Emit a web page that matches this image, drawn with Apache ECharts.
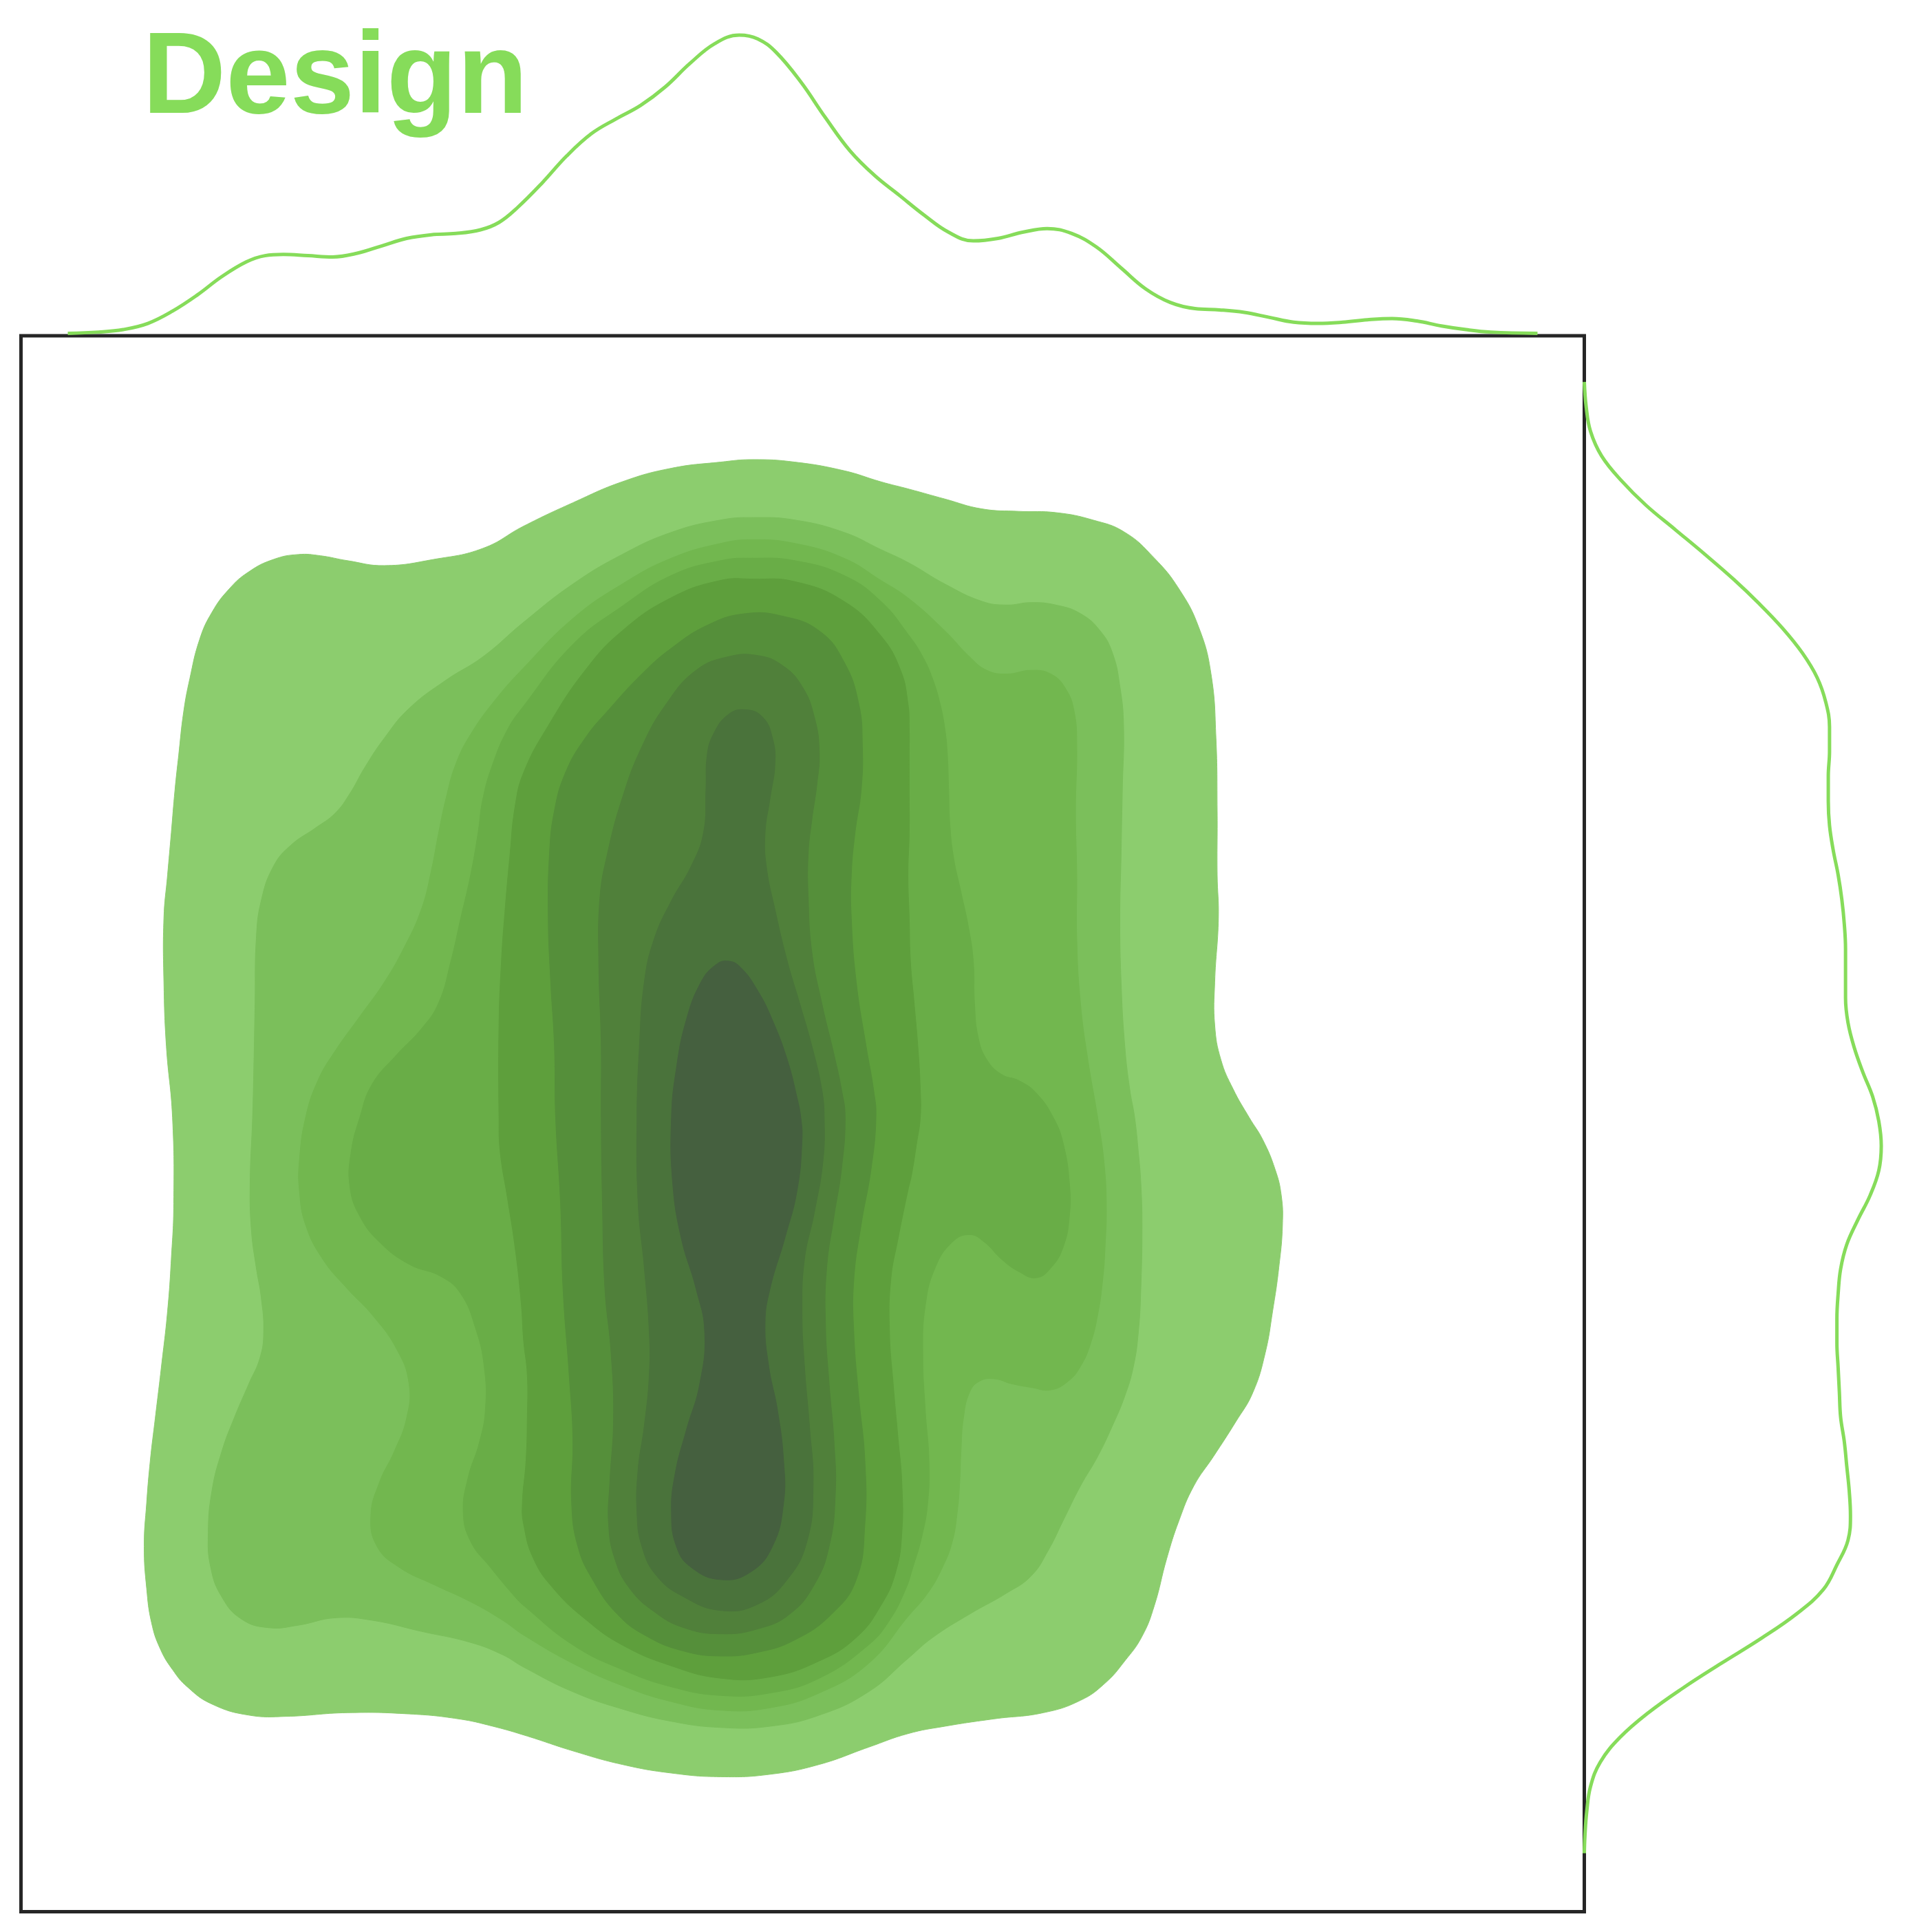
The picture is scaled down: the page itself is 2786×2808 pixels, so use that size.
<!DOCTYPE html>
<html>
<head>
<meta charset="utf-8">
<script src="https://cdn.jsdelivr.net/npm/echarts@6/dist/echarts.min.js"></script>
<style>html,body{margin:0;padding:0;background:#fff;}#chart{width:2786px;height:2808px;}</style>
</head>
<body>
<div id="chart"></div>
<script>
// ---- Data (units are arbitrary plot units) ----
const TITLE = 'Design';
const LINE_COLOR = '#86dc5a';
const LEVEL_COLORS = ['#8ccd6e', '#7bbf5b', '#72b74f', '#69ad47', '#5e9f3c', '#558f3a', '#50803a', '#4a733b', '#45603f'];

// Density contour levels (outermost -> innermost), each a closed outline of [x, y]
const LEVEL_1 = [[140,907],[135,849],[133,797],[133,745],[136,710],[139,676],[142,641],[145,613],[149,578],[154,551],[162,519],[172,497],[186,478],[202,464],[222,454],[242,450],[260,451],[282,455],[312,459],[352,454],[392,445],[425,427],
 [465,408],[505,391],[545,380],[585,375],[611,373],[645,375],[685,382],[715,391],[738,397],
 [767,405],[797,413],[827,415],[857,416],[887,422],[913,432],[937,453],[957,478],[973,509],[983,547],[987,599],[988,658],[988,710],[989,745],[986,797],[986,832],[991,860],[1001,884],[1014,907],
 [1025,925],[1035,949],[1040,970],[1041,994],[1038,1029],[1033,1064],[1027,1098],[1017,1130],[1003,1154],[985,1182],[969,1206],[957,1234],[947,1265],[937,1303],[927,1328],[913,1348],[897,1366],[877,1380],[847,1390],[807,1395],[767,1401],[737,1407],
 [705,1418],[665,1432],[625,1440],[585,1442],[545,1439],[505,1432],[465,1421],[428,1409],
 [400,1401],[372,1395],[332,1391],[282,1390],[232,1393],[202,1392],[172,1383],[152,1369],[140,1355],[130,1338],[123,1317],[119,1289],[117,1255],[119,1220],[122,1185],[126,1151],[131,1109],[136,1064],[139,1022],[141,977]];
const LEVEL_2 = [[205,907],[206,867],[207,814],[208,762],[212,731],[222,703],[236,686],[256,672],[272,660],[284,644],[296,623],[312,599],[332,575],[362,552],[392,533],[425,505],
 [465,474],[505,450],[545,432],[585,422],[611,420],[645,422],[685,432],[715,446],[738,457],
 [767,474],[797,488],[817,491],[837,489],[857,491],[877,498],[893,512],[903,530],[909,557],[912,589],[911,641],[910,693],[909,745],[910,797],[913,849],[917,884],[921,907],
 [924,935],[926,960],[927,994],[926,1046],[924,1081],[920,1109],[913,1133],[903,1157],[891,1182],[877,1206],[863,1234],[851,1258],[837,1279],[817,1293],[787,1310],[757,1329],[737,1346],
 [705,1373],[665,1392],[625,1401],[585,1402],[545,1397],[505,1387],[465,1373],[425,1353],
 [408,1343],[382,1333],[342,1324],[302,1315],[272,1313],[242,1319],[218,1321],[196,1314],[180,1296],[171,1272],[169,1244],[172,1210],[180,1178],[190,1151],[202,1123],[211,1102],[214,1081],[212,1053],[208,1029],[204,998],[203,960]];
const LEVEL_3 = [[248,907],[258,877],[272,853],[292,825],[312,797],[328,769],[342,738],[350,707],[356,676],[362,648],[370,620],[382,596],[402,568],[425,542],
 [465,502],[505,474],[545,453],[585,441],[611,438],[645,441],[685,453],[715,471],[738,486],
 [767,512],[787,533],[801,544],[817,547],[837,544],[853,547],[865,559],[872,578],[874,606],[873,658],[874,710],[874,762],[877,814],[883,860],[891,907],
 [896,942],[898,977],[897,1012],[895,1039],[891,1067],[885,1091],[877,1109],[867,1121],[853,1128],[837,1126],[821,1123],[807,1119],[795,1121],[787,1130],[782,1151],[780,1178],[779,1203],[777,1227],[773,1251],[765,1272],[753,1293],[737,1312],
 [705,1350],[665,1374],[625,1386],[585,1388],[545,1381],[505,1368],[465,1350],[425,1327],
 [408,1315],[382,1300],[352,1286],[324,1272],[306,1255],[301,1230],[308,1203],[320,1178],[330,1151],[332,1123],[322,1095],[302,1067],[282,1046],[262,1022],[248,994],[243,966],[243,942]];
const LEVEL_4 = [[292,907],[302,880],[322,856],[342,835],[356,814],[366,780],[374,745],[382,710],[388,676],[392,648],[400,620],[412,592],[425,573],
 [465,523],[505,492],[545,467],[585,455],[611,453],[645,455],[685,467],[715,488],[738,516],
 [749,533],[757,551],[763,571],[767,592],[769,613],[770,641],[771,669],[774,696],[780,724],[786,752],[790,780],[791,814],[794,842],[801,860],[813,872],[827,877],[841,887],[855,907],
 [863,928],[868,960],[868,987],[863,1012],[853,1029],[841,1037],[827,1032],[813,1022],[799,1008],[787,1002],[773,1008],[759,1029],[751,1060],[749,1098],[751,1144],[754,1185],[753,1220],[748,1248],[741,1272],[735,1290],[722,1315],
 [705,1335],[665,1362],[625,1374],[585,1376],[545,1369],[505,1355],[465,1335],[425,1303],
 [418,1296],[398,1272],[382,1251],[376,1227],[380,1199],[389,1171],[394,1144],[393,1109],[386,1078],[374,1050],[358,1036],[332,1026],[308,1008],[292,987],[284,963],[285,935]];
const LEVEL_5 = [[405,907],[405,832],[407,780],[410,738],[414,693],[418,655],[425,627],
 [445,589],[475,544],[505,512],[545,485],[585,471],[611,470],[645,472],[685,488],[715,516],[731,544],[737,571],[738,590],
 [738,613],[738,641],[738,676],[737,710],[738,745],[739,780],[742,814],[745,849],[747,884],[747,907],
 [744,928],[740,953],[737,966],
 [729,1005],[723,1039],[722,1081],[725,1123],[729,1168],[732,1203],[732,1244],[727,1276],[715,1303],[695,1329],[665,1348],[625,1361],[585,1362],[545,1352],[505,1335],[475,1314],[449,1289],[433,1265],[425,1237],
 [424,1220],[427,1185],[428,1151],[428,1116],[425,1088],[423,1057],[418,1012],[412,973],[406,935]];
const LEVEL_6 = [[451,907],[450,849],[447,797],[445,745],[446,693],[450,658],[459,627],[475,599],[495,575],[521,547],[545,526],[575,507],[605,498],[635,500],[665,512],[685,537],[697,571],[700,606],[699,641],[694,676],[691,710],[691,745],[695,797],[703,849],[709,884],[711,907],
 [707,949],[699,994],[693,1039],[693,1081],[697,1133],[702,1185],[702,1237],[695,1282],[675,1310],[645,1331],[615,1341],[585,1344],[555,1340],[525,1328],[501,1310],[481,1282],[469,1255],[464,1220],[465,1168],[462,1116],[457,1046],[455,977]];
const LEVEL_7 = [[488,907],[488,849],[486,780],[487,728],[493,693],[505,648],[521,606],[541,571],[565,544],[591,533],[615,532],[635,540],[651,557],[661,582],[665,610],[663,637],[659,665],[656,693],[656,728],[659,773],[667,814],[677,856],[683,884],[686,907],
 [683,949],[677,987],[671,1029],[670,1074],[673,1123],[677,1171],[678,1213],[673,1255],[661,1286],[641,1310],[615,1322],[585,1326],[555,1321],[531,1308],[511,1289],[499,1265],[494,1237],[495,1203],[498,1151],[496,1098],[491,1046],[489,977]];
const LEVEL_8 = [[517,907],[519,849],[523,797],[531,762],[545,731],[561,703],[571,676],[573,641],[574,613],[579,596],[591,580],[605,576],[619,582],[627,599],[629,620],[625,648],[621,676],[622,703],[629,738],[639,780],[649,814],[659,849],[667,884],[669,907],
 [668,942],[661,984],[653,1022],[651,1064],[653,1109],[657,1157],[660,1206],[655,1251],[639,1282],[615,1302],[585,1307],[555,1296],[533,1279],[521,1255],[517,1227],[518,1192],[523,1157],[527,1116],[527,1081],[523,1029],[518,977]];
const LEVEL_9 = [[545,907],[549,867],[557,828],[569,797],[581,783],[591,780],[601,785],[615,804],[627,828],[639,860],[647,891],[650,907],
 [651,925],[647,966],[637,1005],[625,1046],[621,1074],[624,1109],[631,1144],[636,1185],[636,1220],[627,1255],[609,1276],[585,1282],[561,1272],[549,1255],[545,1227],[548,1196],[557,1161],[568,1123],[572,1081],[565,1046],[553,1005],[546,960]];

// Marginal density along x (top)
const TOP_X = [55,80,100,120,140,160,180,200,215,230,250,270,290,310,330,350,370,390,405,420,440,460,480,500,520,540,560,580,600,615,630,650,670,690,710,730,750,770,790,810,830,850,870,890,910,930,950,970,990,1010,1030,1050,1070,1090,1110,1130,1150,1170,1190,1210,1248];
const TOP_DENSITY = [2,3,5,10,20,33,48,60,65,66,65,64,67,73,79,82,83,86,92,104,124,146,164,176,187,202,221,237,244,241,230,206,177,150,130,114,98,84,77,79,84,87,83,72,55,38,27,22,21,19,15,11,10,11,13,14,12,8,5,3,2];

// Marginal density along y (right)
const RIGHT_Y = [310,330,350,370,390,410,430,450,470,490,510,530,550,570,590,610,630,650,670,690,710,730,750,770,790,810,830,850,870,890,910,930,950,970,990,1010,1030,1050,1070,1090,1110,1130,1150,1170,1190,1210,1230,1250,1270,1290,1310,1330,1350,1370,1390,1410,1430,1450,1470,1490,1504];
const RIGHT_DENSITY = [0,1.5,5,14,30,50,74,98,121,142,161,177,189,196,199,199,198,198,199,202,206,209,211,212,212,212,214,219,226,234,239,241,239,232,222,213,208,206,205,205,206,207,208,211,213,215,216,214,205,194,172,143,111,80,52,29,13,5,2,0.5,0];

// Axis ranges
const MAIN_X_RANGE = [17, 1286];
const MAIN_Y_RANGE = [272.5, 1551.5];
const TOP_DENSITY_RANGE = [0, 272.5];
const RIGHT_DENSITY_RANGE = [0, 270];

const LEVELS = [LEVEL_1, LEVEL_2, LEVEL_3, LEVEL_4, LEVEL_5, LEVEL_6, LEVEL_7, LEVEL_8, LEVEL_9];

const chart = echarts.init(document.getElementById('chart'), null, {renderer: 'canvas'});

const contourSeries = LEVELS.map((poly, i) => ({
  type: 'custom',
  coordinateSystem: 'cartesian2d',
  xAxisIndex: 0, yAxisIndex: 0,
  data: poly,
  encode: {x: 0, y: 1},
  silent: true,
  z: 2 + i * 0.01,
  renderItem: (params, api) => {
    if (params.dataIndex !== 0) return null;
    const pts = poly.map(p => api.coord(p));
    return {
      type: 'polygon',
      shape: {points: pts, smooth: 0.45},
      style: {fill: LEVEL_COLORS[i], stroke: LEVEL_COLORS[i], lineWidth: 1}
    };
  }
}));

const option = {
  animation: false,
  backgroundColor: '#ffffff',
  title: {
    text: TITLE,
    left: 207, top: 34, padding: 0,
    textStyle: {fontSize: 168, fontWeight: 'bold', fontFamily: 'Liberation Sans, Arial, sans-serif', color: LINE_COLOR}
  },
  grid: [
    {left: 30.5, top: 488, right: 483.5, bottom: 29.5, show: true, borderColor: '#262626', borderWidth: 5, backgroundColor: 'transparent'},
    {left: 30.5, top: 0, right: 483.5, bottom: 2320, show: false},
    {left: 2302.5, top: 488, right: 0, bottom: 29.5, show: false}
  ],
  xAxis: [
    {gridIndex: 0, type: 'value', min: MAIN_X_RANGE[0], max: MAIN_X_RANGE[1], show: false},
    {gridIndex: 1, type: 'value', min: MAIN_X_RANGE[0], max: MAIN_X_RANGE[1], show: false},
    {gridIndex: 2, type: 'value', min: RIGHT_DENSITY_RANGE[0], max: RIGHT_DENSITY_RANGE[1], show: false}
  ],
  yAxis: [
    {gridIndex: 0, type: 'value', inverse: true, min: MAIN_Y_RANGE[0], max: MAIN_Y_RANGE[1], show: false},
    {gridIndex: 1, type: 'value', min: TOP_DENSITY_RANGE[0], max: TOP_DENSITY_RANGE[1], show: false},
    {gridIndex: 2, type: 'value', inverse: true, min: MAIN_Y_RANGE[0], max: MAIN_Y_RANGE[1], show: false}
  ],
  series: contourSeries.concat([
    {
      type: 'line', xAxisIndex: 1, yAxisIndex: 1,
      data: TOP_X.map((x, i) => [x, TOP_DENSITY[i]]),
      smooth: 0.4, showSymbol: false, symbol: 'none', silent: true, z: 5,
      lineStyle: {color: LINE_COLOR, width: 5}
    },
    {
      type: 'line', xAxisIndex: 2, yAxisIndex: 2,
      data: RIGHT_Y.map((y, i) => [RIGHT_DENSITY[i], y]),
      smooth: 0.4, showSymbol: false, symbol: 'none', silent: true, z: 5,
      lineStyle: {color: LINE_COLOR, width: 5}
    }
  ])
};
chart.setOption(option);
</script>
</body>
</html>
